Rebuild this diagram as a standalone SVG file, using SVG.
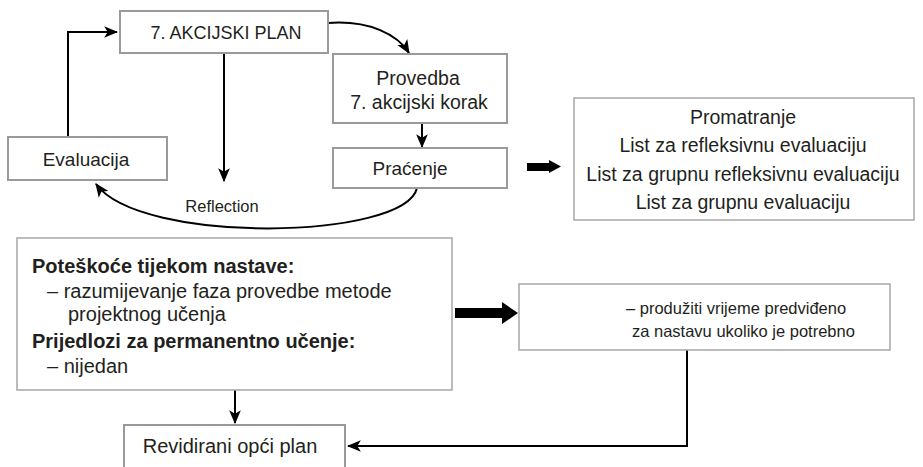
<svg xmlns="http://www.w3.org/2000/svg" width="923" height="467" viewBox="0 0 923 467">
  <style>
    .box { fill: #fff; stroke: #9a9a9a; stroke-width: 2; }
    .box-thin { fill: #fff; stroke: #a6a6a6; stroke-width: 1.5; }
    .t { font-family: "Liberation Sans", Arial, sans-serif; fill: #231f20; }
    .c { text-anchor: middle; }
    .b { font-weight: bold; }
    .conn { fill: none; stroke: #000; stroke-width: 2; }
  </style>
  <defs>
    <marker id="ah" viewBox="0 0 12 10" refX="11" refY="5" markerWidth="14" markerHeight="12" markerUnits="userSpaceOnUse" orient="auto">
      <path d="M0,0 L12,5 L0,10 L3,5 z" fill="#000"/>
    </marker>
  </defs>

  <!-- connectors -->
  <g id="connectors">
    <path class="conn" d="M68,137 V32 H117" marker-end="url(#ah)"/>
    <path class="conn" d="M224,53 V181" marker-end="url(#ah)"/>
    <path class="conn" d="M328,23 C370,20 398,35 409,53" marker-end="url(#ah)"/>
    <path class="conn" d="M422,123 V147" marker-end="url(#ah)"/>
    <path class="conn" d="M417,188 C405,240 140,245 96,184" marker-end="url(#ah)"/>
    <path class="conn" d="M235,390 V423" marker-end="url(#ah)"/>
    <path class="conn" d="M687,350 V446 H348" marker-end="url(#ah)"/>
    <!-- block arrows -->
    <path d="M527,163 H549 V160 L561,166.5 L549,173 V171 H527 z" fill="#000"/>
    <path d="M455,308 H502 V302 L518,313 L502,324 V318 H455 z" fill="#000"/>
    <text class="t c" x="222" y="212" font-size="16.5">Reflection</text>
  </g>

  <g id="akcijski-plan">
    <rect class="box" x="120" y="11" width="208" height="42"/>
    <text class="t c" x="226" y="39" font-size="18">7. AKCIJSKI PLAN</text>
  </g>

  <g id="evaluacija">
    <rect class="box" x="8" y="137" width="159" height="43"/>
    <text class="t c" x="86" y="166" font-size="19">Evaluacija</text>
  </g>

  <g id="provedba">
    <rect class="box" x="333" y="54" width="174" height="69"/>
    <text class="t c" x="418" y="85" font-size="19.5">Provedba</text>
    <text class="t c" x="419" y="109" font-size="19.5">7. akcijski korak</text>
  </g>

  <g id="pracenje">
    <rect class="box" x="333" y="148" width="174" height="40"/>
    <text class="t c" x="410" y="175" font-size="19">Praćenje</text>
  </g>

  <g id="instrumenti">
    <rect class="box-thin" x="574" y="98" width="340" height="122"/>
    <text class="t c" x="743" y="124" font-size="19.5">Promatranje</text>
    <text class="t c" x="743" y="152" font-size="19.5">List za refleksivnu evaluaciju</text>
    <text class="t c" x="743" y="181" font-size="19.5">List za grupnu refleksivnu evaluaciju</text>
    <text class="t c" x="743" y="209" font-size="19.5">List za grupnu evaluaciju</text>
  </g>

  <g id="poteskoce">
    <rect class="box-thin" x="17" y="238" width="435" height="152"/>
    <text class="t b" x="32" y="273" font-size="20">Poteškoće tijekom nastave:</text>
    <text class="t" x="47" y="298" font-size="20">– razumijevanje faza provedbe metode</text>
    <text class="t" x="68" y="321" font-size="20">projektnog učenja</text>
    <text class="t b" x="32" y="348" font-size="20">Prijedlozi za permanentno učenje:</text>
    <text class="t" x="47" y="373" font-size="20">– nijedan</text>
  </g>

  <g id="prijedlog">
    <rect class="box-thin" x="519" y="284" width="371" height="66"/>
    <text class="t" x="626" y="314" font-size="16.5">– produžiti vrijeme predviđeno</text>
    <text class="t" x="632" y="337" font-size="16.5">za nastavu ukoliko je potrebno</text>
  </g>

  <g id="revidirani-plan">
    <rect class="box" x="124" y="425" width="221" height="50"/>
    <text class="t c" x="230" y="453" font-size="20">Revidirani opći plan</text>
  </g>
</svg>
